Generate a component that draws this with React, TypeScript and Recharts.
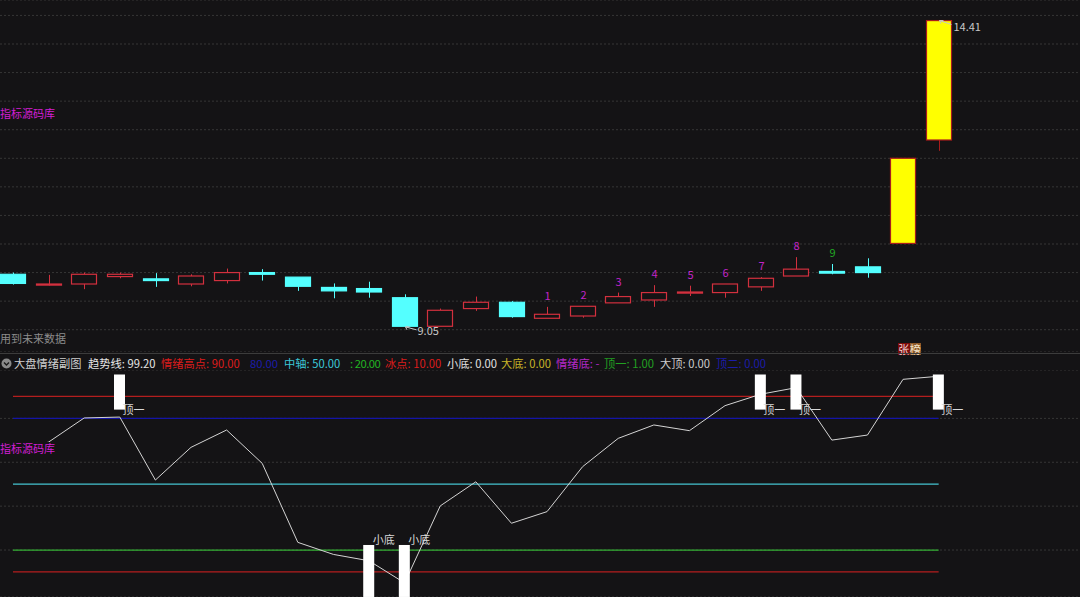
import React from 'react';
import { ComposedChart, Bar, Line, XAxis, YAxis, CartesianGrid } from 'recharts';

// ---------- upper panel: daily candles ----------
const opens = [9.97, 9.78, 9.80, 9.93, 9.89, 9.80, 9.86, 10.00, 9.92, 9.74, 9.72, 9.56, 9.06, 9.37, 9.48, 9.20, 9.24, 9.47, 9.52, 9.64, 9.65, 9.75, 9.94, 10.02, 10.10, 10.51, 12.32];
const closes = [9.81, 9.80, 9.97, 9.97, 9.86, 9.94, 10.00, 9.97, 9.76, 9.68, 9.66, 9.06, 9.34, 9.48, 9.23, 9.27, 9.41, 9.58, 9.65, 9.66, 9.80, 9.90, 10.06, 9.99, 10.00, 12.00, 14.41];
const highs = [10.00, 9.96, 10.00, 10.00, 9.99, 9.97, 10.07, 10.06, 9.92, 9.81, 9.84, 9.62, 9.37, 9.58, 9.50, 9.40, 9.41, 9.65, 9.78, 9.77, 9.80, 9.92, 10.27, 10.15, 10.25, 12.00, 14.41];
const lows = [9.79, 9.77, 9.71, 9.90, 9.75, 9.76, 9.81, 9.86, 9.68, 9.55, 9.56, 9.05, 9.06, 9.33, 9.21, 9.20, 9.21, 9.47, 9.40, 9.59, 9.56, 9.68, 9.94, 9.97, 9.91, 10.51, 12.13];
const limitUpDays = [25, 26];
const seqDays = [15, 16, 17, 18, 19, 20, 21, 22, 23];
const seqLabels = ['1', '2', '3', '4', '5', '6', '7', '8', '9'];
const seqColors = ['#c224c8', '#c224c8', '#c224c8', '#c224c8', '#c224c8', '#c224c8', '#c224c8', '#c224c8', '#22a824'];
const highMarkDay = 26;
const highMarkText = '14.41';
const lowMarkDay = 11;
const lowMarkText = '9.05';
const priceTicks = [9, 9.5, 10, 10.5, 11, 11.5, 12, 12.5, 13, 13.5, 14, 14.5];
const priceDomain = [8.61, 14.77];
const dayDomain = [-0.365, 29.97];

// ---------- lower panel: 大盘情绪副图 ----------
const trendLine = [64.7, 69.2, 80.2, 80.6, 51.9, 66.8, 74.7, 59.5, 23.5, 18.0, 15.1, 5.0, 40.1, 51.1, 32.2, 37.5, 58.0, 70.9, 77.0, 74.4, 85.8, 91.0, 94.0, 70.1, 72.4, 97.8, 99.2];
const LEVEL_HIGH = 90;
const LEVEL_80 = 80;
const LEVEL_MID = 50;
const LEVEL_20 = 20;
const LEVEL_ICE = 10;
const topSignalDays = [3, 21, 22, 26];
const topSignalRange = [84, 100];
const topSignalText = '顶一';
const bottomSignalDays = [10, 11];
const bottomSignalRange = [-1.4, 22.3];
const bottomSignalText = '小底';
const emotionTicks = [20, 40, 60, 80];
const emotionDomain = [-1.41, 102.05];

const legendItems = [
  { x: 14, text: '大盘情绪副图', color: '#cfcfcf', ls: 0 },
  { x: 88, text: '趋势线: 99.20', color: '#e6e6e6', ls: 0 },
  { x: 161, text: '情绪高点: 90.00', color: '#dc1c1c', ls: 0 },
  { x: 250, text: '80.00', color: '#1c1ca8', ls: 0 },
  { x: 284, text: '中轴: 50.00', color: '#3cc8d8', ls: 0 },
  { x: 350, text: ': 20.00', color: '#22b422', ls: -0.5 },
  { x: 385, text: '冰点: 10.00', color: '#dc1c1c', ls: 0 },
  { x: 447, text: '小底: 0.00', color: '#e0e0e0', ls: 0 },
  { x: 501, text: '大底: 0.00', color: '#c8b428', ls: 0 },
  { x: 556, text: '情绪底: -', color: '#b428c8', ls: 0 },
  { x: 604, text: '顶一: 1.00', color: '#22a022', ls: 0 },
  { x: 660, text: '大顶: 0.00', color: '#cccccc', ls: 0 },
  { x: 716, text: '顶二: 0.00', color: '#1c1ca8', ls: 0 },
];

const BG = '#141315';
const FONT = '"Noto Sans CJK SC", "Noto Sans", sans-serif';

const candleData = opens.map((o, i) => {
  const s = seqDays.indexOf(i);
  return {
    i,
    open: o,
    close: closes[i],
    high: highs[i],
    low: lows[i],
    range: [lows[i], highs[i]],
    limitUp: limitUpDays.includes(i),
    seq: s >= 0 ? seqLabels[s] : null,
    seqColor: s >= 0 ? seqColors[s] : null,
    mark: i === highMarkDay ? 'high' : i === lowMarkDay ? 'low' : null,
  };
});

const emotionData = trendLine.map((v, i) => {
  const isTop = topSignalDays.includes(i);
  const isBottom = bottomSignalDays.includes(i);
  return {
    i,
    trend: v,
    high: LEVEL_HIGH,
    l80: LEVEL_80,
    mid: LEVEL_MID,
    l20: LEVEL_20,
    ice: LEVEL_ICE,
    signal: isTop ? topSignalRange : isBottom ? bottomSignalRange : null,
    signalKind: isTop ? 'top' : isBottom ? 'bottom' : null,
  };
});

function CandleShape(props: any) {
  const { x, y, width, height, payload } = props;
  if (!payload) return null;
  const { open, close, high, low, limitUp, seq, seqColor, mark } = payload;
  const top = height >= 0 ? y : y + height;
  const h = Math.abs(height);
  const k = high > low ? h / (high - low) : 0;
  const py = (v: number) => top + (high - v) * k;
  const cx = Math.round(x + width / 2) + 0.5;
  const up = close >= open;
  const bodyTop = py(Math.max(open, close));
  const bodyBot = py(Math.min(open, close));
  const bh = Math.max(1, bodyBot - bodyTop);
  let color = up ? '#d2303e' : '#54ffff';
  let fill = up ? BG : '#54ffff';
  let wick = color;
  if (limitUp) {
    color = '#a81c1c';
    fill = '#ffff00';
    wick = '#a81c1c';
  }
  const left = Math.round(x) + 0.5;
  const w = Math.round(width) - 1;
  const els: any[] = [];
  if (py(high) < bodyTop - 0.3) {
    els.push(<line key="wu" x1={cx} x2={cx} y1={py(high)} y2={bodyTop} stroke={wick} strokeWidth={1} />);
  }
  if (py(low) > bodyTop + bh + 0.3) {
    els.push(<line key="wd" x1={cx} x2={cx} y1={bodyTop + bh} y2={py(low)} stroke={wick} strokeWidth={1} />);
  }
  els.push(<rect key="b" x={left} y={bodyTop} width={w} height={bh} fill={fill} stroke={color} strokeWidth={1.2} />);
  if (seq) {
    els.push(
      <text key="s" x={cx} y={py(high) - 12} textAnchor="middle" dominantBaseline="central" fontSize={11} fontFamily={FONT} fill={seqColor}>
        {seq}
      </text>
    );
  }
  if (mark === 'high') {
    const ty = py(high);
    els.push(
      <g key="mh" stroke="#c8c8c8" strokeWidth={1}>
        <line x1={cx} y1={ty} x2={cx + 12} y2={ty + 4} />
        <line x1={cx} y1={ty} x2={cx + 4} y2={ty} />
        <line x1={cx} y1={ty} x2={cx + 1.5} y2={ty + 3} />
      </g>
    );
    els.push(
      <text key="mht" x={cx + 14} y={ty + 5} dominantBaseline="central" fontSize={11} fontFamily={FONT} fill="#c8c8c8">
        {highMarkText}
      </text>
    );
  }
  if (mark === 'low') {
    const ty = py(low);
    els.push(
      <g key="ml" stroke="#c8c8c8" strokeWidth={1}>
        <line x1={cx} y1={ty} x2={cx + 11} y2={ty + 3} />
        <line x1={cx} y1={ty} x2={cx + 4} y2={ty} />
        <line x1={cx} y1={ty} x2={cx + 1.5} y2={ty + 3} />
      </g>
    );
    els.push(
      <text key="mlt" x={cx + 12} y={ty + 3} dominantBaseline="central" fontSize={11} fontFamily={FONT} fill="#c8c8c8">
        {lowMarkText}
      </text>
    );
  }
  return <g>{els}</g>;
}

function SignalShape(props: any) {
  const { x, y, width, height, payload } = props;
  if (!payload || !payload.signalKind) return null;
  const top = height >= 0 ? y : y + height;
  const h = Math.abs(height);
  const cx = x + width / 2;
  const isTop = payload.signalKind === 'top';
  return (
    <g>
      <rect x={x} y={top} width={width} height={h} fill="#ffffff" />
      {isTop ? (
        <text x={cx + 3} y={top + h - 1} dominantBaseline="central" fontSize={11} fontFamily={FONT} fill="#d8d8d8">
          {topSignalText}
        </text>
      ) : (
        <text x={cx + 4} y={top - 6} dominantBaseline="central" fontSize={11} fontFamily={FONT} fill="#d8d8d8">
          {bottomSignalText}
        </text>
      )}
    </g>
  );
}

const noMargin = { top: 0, right: 0, bottom: 0, left: 0 };

export default function App() {
  const txt = (extra: any) => ({
    position: 'absolute' as const,
    fontFamily: FONT,
    fontSize: 11,
    lineHeight: '12px',
    whiteSpace: 'nowrap' as const,
    ...extra,
  });
  return (
    <div style={{ position: 'fixed', left: 0, top: 0, width: 1080, height: 597, background: BG, overflow: 'hidden' }}>
      {/* upper panel */}
      <div style={{ position: 'absolute', left: 0, top: 0 }}>
        <ComposedChart width={1080} height={352} data={candleData} margin={noMargin}>
          <XAxis type="number" dataKey="i" domain={dayDomain} allowDataOverflow hide />
          <YAxis type="number" domain={priceDomain} ticks={priceTicks} allowDataOverflow hide />
          <CartesianGrid vertical={false} stroke="#363636" strokeDasharray="2 2" />
          <Bar dataKey="range" barSize={26} shape={<CandleShape />} isAnimationActive={false} />
        </ComposedChart>
      </div>
      <div style={txt({ left: 0, top: 107, color: '#d21ed2' })}>指标源码库</div>
      <div style={txt({ left: 0, top: 332, color: '#8c8c8c' })}>用到未来数据</div>
      <div style={{ position: 'absolute', left: 898, top: 343, display: 'flex', fontFamily: FONT, fontSize: 11, lineHeight: '12px' }}>
        <span style={{ background: '#7c0c0c', color: '#f4d8d8', width: 11.5, textAlign: 'center' }}>张</span>
        <span style={{ background: '#8e5a2a', color: '#f4e4c8', width: 11.5, textAlign: 'center' }}>榜</span>
      </div>
      {/* separator */}
      <div style={{ position: 'absolute', left: 0, top: 353, width: 1080, height: 1, background: '#3c3c3c' }} />
      {/* legend row */}
      <svg style={{ position: 'absolute', left: 1, top: 358 }} width={11} height={11}>
        <circle cx={5.5} cy={5.5} r={5} fill="#8a8a8a" />
        <polyline points="3,4.5 5.5,7 8,4.5" fill="none" stroke="#1a1a1a" strokeWidth={1.4} />
      </svg>
      {legendItems.map((it) => (
        <div key={it.text} style={txt({ left: it.x, top: 357, color: it.color, fontSize: 11.25, letterSpacing: it.ls })}>
          {it.text}
        </div>
      ))}
      {/* lower panel */}
      <div style={{ position: 'absolute', left: 0, top: 370 }}>
        <ComposedChart width={1080} height={227} data={emotionData} margin={noMargin}>
          <XAxis type="number" dataKey="i" domain={dayDomain} allowDataOverflow hide />
          <YAxis type="number" domain={emotionDomain} ticks={emotionTicks} allowDataOverflow hide />
          <CartesianGrid vertical={false} stroke="#363636" strokeDasharray="2 2" />
          <Line dataKey="high" stroke="#b41e1e" strokeWidth={1.3} dot={false} activeDot={false} isAnimationActive={false} />
          <Line dataKey="l80" stroke="#1414a6" strokeWidth={1.3} dot={false} activeDot={false} isAnimationActive={false} />
          <Line dataKey="mid" stroke="#44c4d0" strokeWidth={1.3} dot={false} activeDot={false} isAnimationActive={false} />
          <Line dataKey="l20" stroke="#34b034" strokeWidth={1.3} dot={false} activeDot={false} isAnimationActive={false} />
          <Line dataKey="ice" stroke="#b41e1e" strokeWidth={1.3} dot={false} activeDot={false} isAnimationActive={false} />
          <Line dataKey="trend" stroke="#d4d4d4" strokeWidth={1} dot={false} activeDot={false} isAnimationActive={false} />
        </ComposedChart>
      </div>
      <div style={txt({ left: 0, top: 442, color: '#d21ed2', background: BG, paddingRight: 1 })}>指标源码库</div>
      <div style={{ position: 'absolute', left: 0, top: 370 }}>
        <ComposedChart width={1080} height={227} data={emotionData} margin={noMargin}>
          <XAxis type="number" dataKey="i" domain={dayDomain} allowDataOverflow hide />
          <YAxis type="number" domain={emotionDomain} allowDataOverflow hide />
          <Bar dataKey="signal" barSize={11} shape={<SignalShape />} isAnimationActive={false} />
        </ComposedChart>
      </div>
    </div>
  );
}
